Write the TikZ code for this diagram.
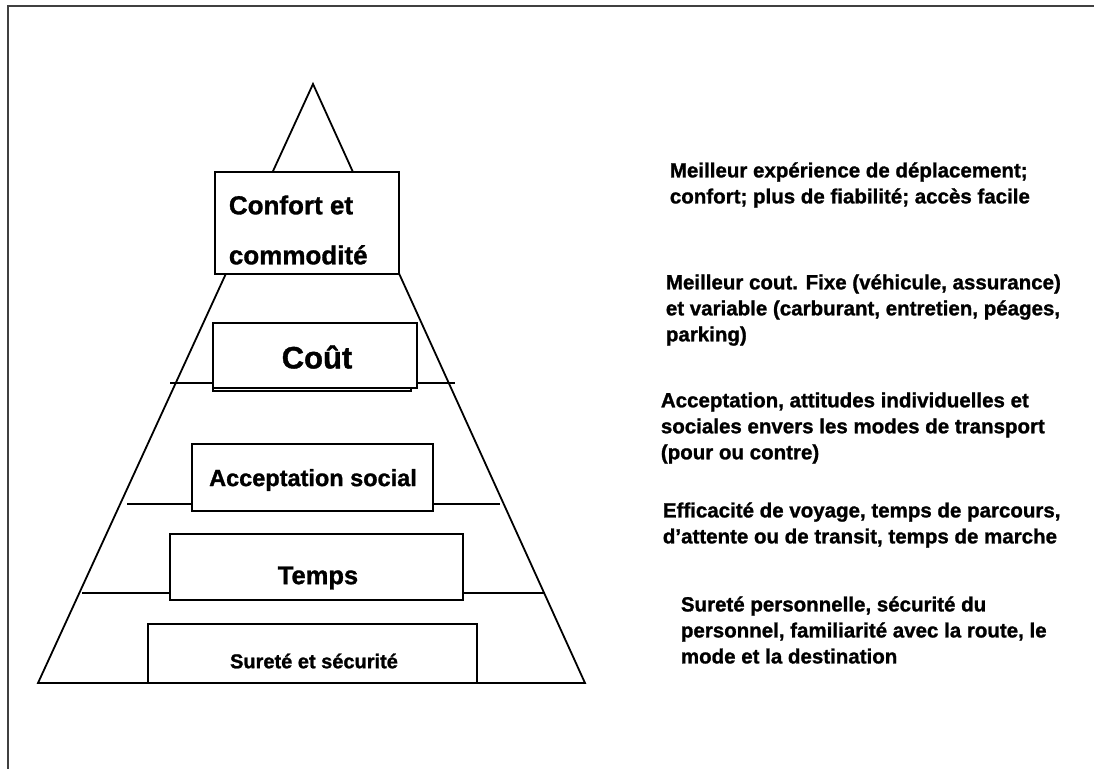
\documentclass[tikz,border=0pt]{standalone}
\usepackage{fontspec}
\setmainfont{Liberation Sans}[BoldFeatures={FakeBold=1.2}]
\begin{document}
\begin{tikzpicture}[x=1pt, y=-1pt, line width=1.8pt,
    etage/.style={draw, fill=white, rectangle, inner sep=0pt},
    texte/.style={align=left, anchor=west, inner sep=0pt,
      font=\fontsize{20.5}{26}\selectfont\bfseries}]
    \useasboundingbox (0,0) rectangle (1094,769);

    % cadre
    \draw[line width=2.2pt, black!75] (1094,6) -- (8,6) -- (8,769);

    % pyramide
    \coordinate (sommet) at (313,84);
    \coordinate (gauche) at (38,683);
    \coordinate (droite) at (585,683);
    \draw (gauche) -- (sommet) -- (droite) -- cycle;

    % lignes des étages
    \draw (170,383) -- (455,383);
    \draw (127,504) -- (500,504);
    \draw (82,593) -- (545,593);

    % cases
    \node[etage, minimum width=184pt, minimum height=102pt] (confort) at (307,223) {};
    \draw (213,327) rectangle (411,391);
    \node[etage, minimum width=204pt, minimum height=65pt] (cout) at (315,355.5) {};
    \node[etage, minimum width=241pt, minimum height=67pt] (accept) at (312.5,477.5) {};
    \node[etage, minimum width=293pt, minimum height=66pt] (temps) at (316.5,567) {};
    \node[etage, minimum width=329pt, minimum height=59pt] (surete) at (312.5,653.5) {};

    % noms des étages
    \node[texte, font=\fontsize{26}{50}\selectfont\bfseries] (tConfort) at (228,230) {Confort et\\commodité};
    \node[font=\fontsize{31}{36}\selectfont\bfseries] (tCout) at (317,357) {Coût};
    \node[font=\fontsize{23.5}{28}\selectfont\bfseries] (tAccept) at (313,480) {Acceptation social};
    \node[font=\fontsize{25.5}{30}\selectfont\bfseries] (tTemps) at (318,578) {Temps};
    \node[font=\fontsize{20}{24}\selectfont\bfseries] (tSurete) at (314,661) {Sureté et sécurité};

    % descriptions
    \node[texte] (dConfort) at (669,185) {Meilleur expérience de déplacement;\\confort; plus de fiabilité; accès facile};
    \node[texte] (dCout) at (665,310) {Meilleur cout. Fixe (véhicule, assurance)\\et variable (carburant, entretien, péages,\\parking)};
    \node[texte] (dAccept) at (660,428) {Acceptation, attitudes individuelles et\\sociales envers les modes de transport\\(pour ou contre)};
    \node[texte] (dTemps) at (662,525) {Efficacité de voyage, temps de parcours,\\d’attente ou de transit, temps de marche};
    \node[texte] (dSurete) at (680,630) {Sureté personnelle, sécurité du\\personnel, familiarité avec la route, le\\mode et la destination};
\end{tikzpicture}
\end{document}
